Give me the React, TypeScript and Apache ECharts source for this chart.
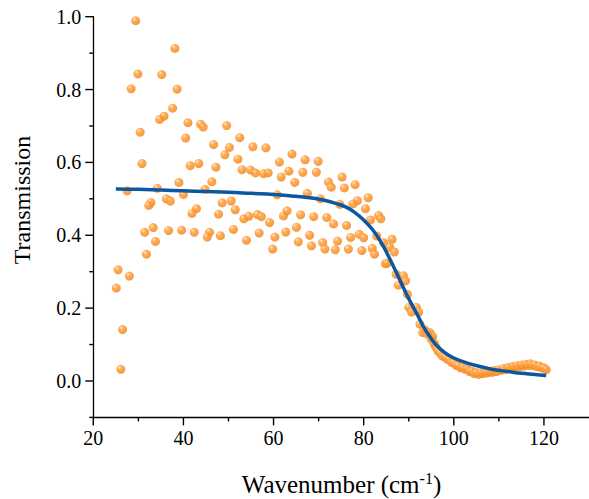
import React, { useEffect, useRef } from 'react';
import * as echarts from 'echarts';

// Scattered measurement points [wavenumber, transmission]
const scatterPoints: [number, number][] = [
  [29.4, 0.989], [38.1, 0.913], [29.9, 0.843], [35.2, 0.841], [28.4, 0.802], [38.6, 0.801],
  [37.6, 0.749], [35.7, 0.727], [34.7, 0.718], [30.4, 0.683], [41.0, 0.709], [43.8, 0.705],
  [44.4, 0.697], [49.6, 0.701], [40.5, 0.667], [52.5, 0.668], [46.7, 0.649], [50.2, 0.641],
  [49.2, 0.621], [55.4, 0.643], [58.3, 0.640], [52.1, 0.609], [30.8, 0.597], [41.5, 0.591],
  [43.4, 0.597], [47.2, 0.587], [53.0, 0.580], [54.9, 0.579], [56.0, 0.571], [57.8, 0.569],
  [58.8, 0.571], [27.5, 0.522], [34.2, 0.529], [39.0, 0.545], [40.0, 0.512], [44.8, 0.526],
  [46.3, 0.547], [36.2, 0.500], [37.1, 0.494], [32.8, 0.490], [32.3, 0.482], [42.9, 0.473],
  [41.9, 0.460], [48.6, 0.489], [50.6, 0.494], [47.8, 0.458], [51.5, 0.470], [53.4, 0.445],
  [54.5, 0.452], [56.4, 0.457], [57.3, 0.451], [59.1, 0.435], [31.4, 0.408], [33.3, 0.421],
  [33.8, 0.383], [36.7, 0.413], [39.6, 0.414], [42.4, 0.408], [45.8, 0.408], [45.3, 0.395],
  [48.2, 0.399], [51.1, 0.416], [54.0, 0.386], [56.8, 0.406],
  [31.8, 0.348], [25.5, 0.305], [28.0, 0.288], [25.1, 0.255], [26.5, 0.141], [26.1, 0.032],
  [59.8, 0.362], [60.3, 0.395], [62.7, 0.409], [62.2, 0.453], [63.0, 0.467], [60.8, 0.511],
  [61.3, 0.601], [61.7, 0.560], [63.4, 0.576],
  [64.1, 0.623], [67.0, 0.607], [69.9, 0.603], [66.5, 0.573], [69.5, 0.573], [64.7, 0.545],
  [72.2, 0.546], [72.8, 0.532], [75.2, 0.560], [75.7, 0.530], [78.1, 0.539], [81.0, 0.503],
  [78.6, 0.495], [77.6, 0.486], [80.4, 0.473], [67.5, 0.515], [70.4, 0.500], [74.7, 0.485],
  [66.0, 0.456], [68.9, 0.451], [71.8, 0.449], [73.3, 0.431], [76.2, 0.427], [81.5, 0.442],
  [83.3, 0.454], [83.8, 0.445], [65.1, 0.422], [68.0, 0.400], [77.1, 0.394], [79.0, 0.403],
  [80.0, 0.393], [82.9, 0.398], [86.3, 0.389], [65.5, 0.382], [68.4, 0.371], [70.9, 0.380],
  [71.4, 0.362], [74.2, 0.384], [73.7, 0.360], [76.6, 0.362], [79.6, 0.358], [81.9, 0.364],
  [82.4, 0.348], [84.4, 0.380], [85.8, 0.367], [86.8, 0.354], [84.8, 0.322], [85.2, 0.323],
  [87.2, 0.293], [88.8, 0.289], [89.3, 0.275], [87.7, 0.263], [89.7, 0.238],
  [90.0, 0.202], [91.7, 0.202], [92.2, 0.189], [90.6, 0.189], [92.5, 0.156], [93.1, 0.133],
  [94.7, 0.133], [95.3, 0.122], [95.9, 0.096], [93.6, 0.140], [94.2, 0.128], [95.0, 0.115],
  [95.6, 0.104], [96.2, 0.090],
];

// Dense low-transmission band (x, y)
const bandX = [
  96.5, 97.0, 97.5, 98.0, 98.5, 99.0, 99.5, 100.0, 100.5, 101.0, 101.5, 102.0, 102.5, 103.0,
  103.5, 104.0, 104.5, 105.0, 105.5, 106.0, 106.5, 107.0, 107.5, 108.0, 108.5, 109.0, 109.5,
  110.0, 110.5, 111.0, 111.5, 112.0, 112.5, 113.0, 113.5, 114.0, 114.5, 115.0, 115.5, 116.0,
  116.5, 117.0, 117.5, 118.0, 118.5, 119.0, 119.5, 120.0, 120.5,
];
const bandY = [
  0.082, 0.076, 0.068, 0.066, 0.060, 0.058, 0.051, 0.049, 0.043, 0.042, 0.036, 0.038, 0.032,
  0.033, 0.026, 0.027, 0.020, 0.023, 0.018, 0.022, 0.020, 0.025, 0.022, 0.026, 0.024, 0.029,
  0.026, 0.031, 0.029, 0.034, 0.031, 0.037, 0.034, 0.040, 0.037, 0.042, 0.039, 0.044, 0.041,
  0.046, 0.043, 0.047, 0.042, 0.044, 0.039, 0.041, 0.036, 0.036, 0.031,
];

// Fitted curve
const fitX = [
  25, 30, 35, 40, 45, 50, 55, 60, 64, 68, 71, 74, 76, 78, 80, 82, 84, 86, 88, 90, 92, 93, 94,
  96, 98, 100, 103, 106, 109, 112, 115, 118, 120.5,
];
const fitY = [
  0.527, 0.526, 0.524, 0.522, 0.520, 0.518, 0.515, 0.512, 0.508, 0.503, 0.497, 0.487, 0.478,
  0.463, 0.442, 0.415, 0.378, 0.330, 0.278, 0.226, 0.180, 0.155, 0.134, 0.100, 0.078, 0.063,
  0.049, 0.039, 0.031, 0.026, 0.021, 0.018, 0.015,
];

const xMajorTicks = [20, 40, 60, 80, 100, 120];
const xMinorTicks = [30, 50, 70, 90, 110];
const yMajorTicks = [0, 0.2, 0.4, 0.6, 0.8, 1.0];
const yMinorTicks = [-0.1, 0.1, 0.3, 0.5, 0.7, 0.9];

const X_MIN = 20;
const X_MAX = 130;
const Y_MIN = -0.1;
const Y_MAX = 1.0;

const FONT = 'Liberation Serif';

export default function App() {
  const ref = useRef<HTMLDivElement>(null);

  useEffect(() => {
    if (!ref.current) return;
    const chart = echarts.init(ref.current, undefined, { renderer: 'svg' });

    const dotColor = new echarts.graphic.RadialGradient(0.35, 0.3, 0.7, [
      { offset: 0, color: '#ffe0bd' },
      { offset: 0.35, color: '#ffa040' },
      { offset: 1, color: '#f5861a' },
    ]);

    const allPoints: [number, number][] = scatterPoints.concat(
      bandX.map((x, i) => [x, bandY[i]] as [number, number])
    );

    chart.setOption({
      animation: false,
      backgroundColor: '#fff',
      grid: { left: 93.3, top: 16.7, width: 496.9, height: 400.7, containLabel: false },
      xAxis: {
        type: 'value',
        min: X_MIN,
        max: X_MAX,
        axisLine: { show: true, onZero: false, lineStyle: { color: '#000', width: 1.3 } },
        axisTick: { show: false },
        axisLabel: {
          show: true,
          customValues: xMajorTicks,
          margin: 11,
          color: '#000',
          fontFamily: FONT,
          fontSize: 20,
        },
        splitLine: { show: false },
      },
      yAxis: {
        type: 'value',
        min: Y_MIN,
        max: Y_MAX,
        axisLine: { show: true, onZero: false, lineStyle: { color: '#000', width: 1.3 } },
        axisTick: { show: false },
        axisLabel: {
          show: true,
          customValues: yMajorTicks,
          margin: 12,
          color: '#000',
          fontFamily: FONT,
          fontSize: 20,
          formatter: (v: number) => v.toFixed(1),
        },
        splitLine: { show: false },
      },
      series: [
        {
          type: 'scatter',
          data: allPoints,
          symbol: 'circle',
          symbolSize: 9,
          itemStyle: { color: dotColor, opacity: 0.85 },
          z: 2,
        },
        {
          type: 'line',
          data: fitX.map((x, i) => [x, fitY[i]]),
          smooth: 0.4,
          showSymbol: false,
          symbol: 'none',
          lineStyle: { color: '#0b57a0', width: 3.5 },
          z: 3,
        },
      ],
    });

    // Tick marks, positioned through the chart's own axis scales
    const tickStyle = { stroke: '#000', lineWidth: 1.4 };
    const ticks: any[] = [];
    const addX = (v: number, len: number) => {
      const p = chart.convertToPixel({ gridIndex: 0 }, [v, Y_MIN]) as number[];
      ticks.push({
        type: 'line',
        silent: true,
        z: 50,
        shape: { x1: p[0], y1: p[1], x2: p[0], y2: p[1] + len },
        style: tickStyle,
      });
    };
    const addY = (v: number, len: number) => {
      const p = chart.convertToPixel({ gridIndex: 0 }, [X_MIN, v]) as number[];
      ticks.push({
        type: 'line',
        silent: true,
        z: 50,
        shape: { x1: p[0] - len, y1: p[1], x2: p[0], y2: p[1] },
        style: tickStyle,
      });
    };
    xMajorTicks.forEach((v) => addX(v, 8));
    xMinorTicks.forEach((v) => addX(v, 4));
    yMajorTicks.forEach((v) => addY(v, 8));
    yMinorTicks.forEach((v) => addY(v, 4));

    chart.setOption({
      graphic: [
        ...ticks,
        {
          type: 'text',
          x: 22,
          y: 200,
          rotation: Math.PI / 2,
          style: {
            text: 'Transmission',
            fontFamily: FONT,
            fontSize: 24,
            fill: '#000',
            align: 'center',
            verticalAlign: 'middle',
          },
        },
        {
          type: 'text',
          x: 341.5,
          y: 484,
          style: {
            text: '{m|Wavenumber (cm}{s|-1}{m|)}',
            fill: '#000',
            align: 'center',
            verticalAlign: 'middle',
            rich: {
              m: { fontFamily: FONT, fontSize: 25, lineHeight: 28, fill: '#000' },
              s: { fontFamily: FONT, fontSize: 16, lineHeight: 28, verticalAlign: 'top', fill: '#000' },
            },
          },
        },
      ],
    });

    return () => chart.dispose();
  }, []);

  return (
    <div
      ref={ref}
      style={{ position: 'fixed', left: 0, top: 0, width: 589, height: 499, background: '#fff' }}
    />
  );
}
